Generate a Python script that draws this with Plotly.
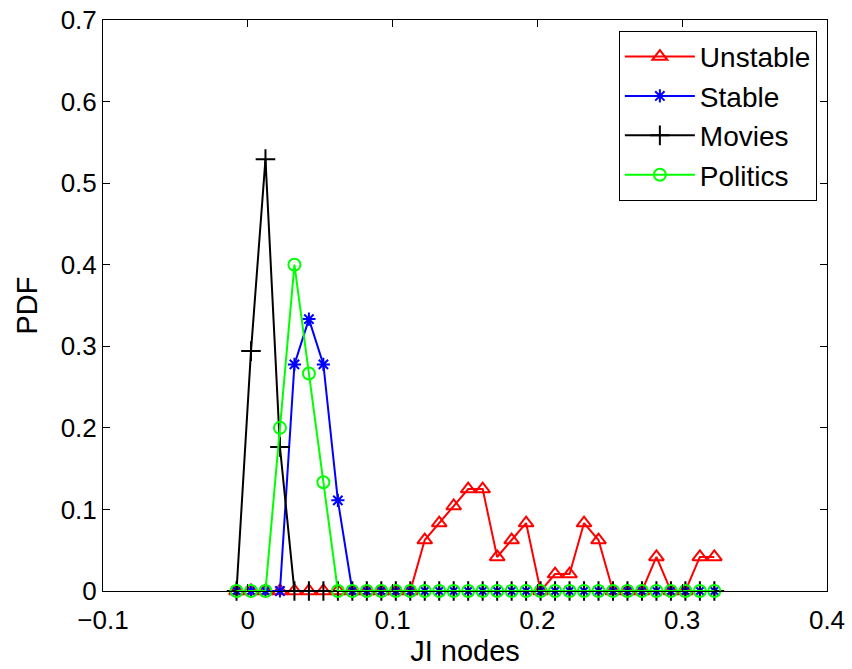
import plotly.graph_objects as go

# Bin centers (JI nodes)
x_vals = [-0.0078, 0.0022, 0.0122, 0.0222, 0.0322, 0.0422, 0.0522, 0.0622, 0.0722, 0.0822,
          0.0922, 0.1022, 0.1122, 0.1222, 0.1322, 0.1422, 0.1522, 0.1622, 0.1722, 0.1822,
          0.1922, 0.2022, 0.2122, 0.2222, 0.2322, 0.2422, 0.2522, 0.2622, 0.2722, 0.2822,
          0.2922, 0.3022, 0.3122, 0.3222]

unstable = [0, 0, 0, 0, 0, 0, 0, 0, 0, 0,
            0, 0, 0, 0.0625, 0.0833, 0.1042, 0.125, 0.125, 0.0417, 0.0625,
            0.0833, 0, 0.0208, 0.0208, 0.0833, 0.0625, 0, 0, 0, 0.0417,
            0, 0, 0.0417, 0.0417]
stable = [0, 0, 0, 0, 0.2778, 0.3333, 0.2778, 0.1111, 0, 0,
          0, 0, 0, 0, 0, 0, 0, 0, 0, 0,
          0, 0, 0, 0, 0, 0, 0, 0, 0, 0,
          0, 0, 0, 0]
movies = [0, 0.2941, 0.5294, 0.1765, 0, 0, 0, 0, 0, 0,
          0, 0, 0, 0, 0, 0, 0, 0, 0, 0,
          0, 0, 0, 0, 0, 0, 0, 0, 0, 0,
          0, 0, 0, 0]
politics = [0, 0, 0, 0.2, 0.4, 0.2667, 0.1333, 0, 0, 0,
            0, 0, 0, 0, 0, 0, 0, 0, 0, 0,
            0, 0, 0, 0, 0, 0, 0, 0, 0, 0,
            0, 0, 0, 0]

series_names = ["Unstable", "Stable", "Movies", "Politics"]
series_vals = [unstable, stable, movies, politics]
colors = ["#FF0000", "#0000FF", "#000000", "#00FF00"]
symbols = ["triangle-up-open", "asterisk-open", "cross-thin-open", "circle-open"]
sizes = [13, 11, 14, 12]

FONT = "Liberation Sans, Arial, Helvetica, sans-serif"

fig = go.Figure()
for name, vals, c, sym, sz in zip(series_names, series_vals, colors, symbols, sizes):
    fig.add_trace(go.Scatter(
        x=x_vals, y=vals, name=name, mode="lines+markers",
        line=dict(color=c, width=2),
        marker=dict(symbol=sym, size=sz, color=c, line=dict(color=c, width=2)),
        cliponaxis=False,
    ))

axis_common = dict(
    showline=True, linecolor="black", linewidth=1, mirror="ticks",
    ticks="inside", ticklen=7, tickcolor="black", tickwidth=1,
    showgrid=False, zeroline=False, automargin=False,
    tickfont=dict(family=FONT, size=26, color="black"),
)

fig.update_layout(
    width=852, height=669,
    margin=dict(l=103, r=25, t=20, b=78),
    paper_bgcolor="white", plot_bgcolor="white",
    font=dict(family=FONT, color="black"),
    xaxis=dict(range=[-0.1, 0.4], dtick=0.1, tick0=0, ticklabelstandoff=6,
               title=dict(text="JI nodes", font=dict(family=FONT, size=29, color="black"), standoff=4),
               **axis_common),
    yaxis=dict(range=[0, 0.7], dtick=0.1, tick0=0,
               title=dict(text="PDF", font=dict(family=FONT, size=29, color="black"), standoff=14),
               **axis_common),
    legend=dict(
        x=0.986, y=0.981, xanchor="right", yanchor="top",
        bgcolor="white", bordercolor="black", borderwidth=1,
        font=dict(family=FONT, size=28, color="black"),
        tracegroupgap=0, itemwidth=70,
    ),
    showlegend=True,
)

fig.write_html("out.html")
